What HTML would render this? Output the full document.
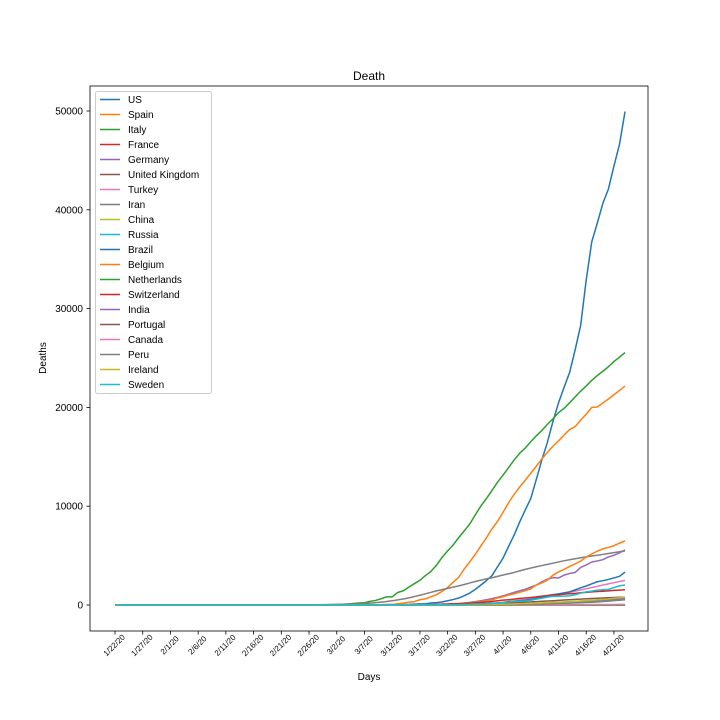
<!DOCTYPE html>
<html><head><meta charset="utf-8"><style>body{margin:0;background:#fff}svg{display:block;font-family:"Liberation Sans","DejaVu Sans",sans-serif}</style></head>
<body>
<svg id="chart" width="720" height="720" viewBox="0 0 720 720" xmlns="http://www.w3.org/2000/svg">
<rect width="720" height="720" fill="#fff"/>
<text x="369" y="80" font-size="12" text-anchor="middle">Death</text>
<text x="369" y="680" font-size="10" text-anchor="middle">Days</text>
<text x="46" y="358" font-size="10" text-anchor="middle" transform="rotate(-90 46 358)">Deaths</text>
<g id="grid"></g><g id="lines"></g>
<rect x="90" y="86" width="558" height="545" fill="none" stroke="#000" stroke-width="0.8"/>
<g id="legend"></g>
</svg>
<script>
const N = 93;
const yTicks = [0,10000,20000,30000,40000,50000];
const countries = ["US","Spain","Italy","France","Germany","United Kingdom","Turkey","Iran","China","Russia","Brazil","Belgium","Netherlands","Switzerland","India","Portugal","Canada","Peru","Ireland","Sweden"];
function pad(start, vals){const a=[];for(let i=0;i<N;i++){a.push(i<start?0:(i-start<vals.length?vals[i-start]:vals[vals.length-1]));}return a;}
const us = pad(38,[1,1,6,7,11,12,14,17,21,22,28,36,40,47,54,63,85,108,118,200,244,307,427,552,706,942,1209,1581,2026,2467,2978,3873,4757,5926,7087,8407,9619,10783,12722,14695,16478,18586,20463,22020,23529,25832,28325,32916,36773,38664,40661,42094,44444,46622,49954]);
const spain = pad(41,[1,2,3,5,10,17,28,35,54,55,133,195,289,342,533,623,830,1043,1375,1772,2311,2808,3647,4365,5138,5982,6803,7716,8464,9387,10348,11198,11947,12641,13341,14045,14792,15447,16081,16606,17209,17756,18056,18708,19315,20002,20043,20453,20852,21282,21717,22157]);
const italy = pad(30,[1,2,3,7,10,12,17,21,29,34,52,79,107,148,197,233,366,463,631,827,827,1266,1441,1809,2158,2503,2978,3405,4032,4825,5476,6077,6820,7503,8215,9134,10023,10779,11591,12428,13155,13915,14681,15362,15887,16523,17127,17669,18279,18849,19468,19899,20465,21067,21645,22170,22745,23227,23660,24114,24648,25085,25549]);
const france = pad(60,[1,1,1,1,2,2,2,2,3,3,3,4,4,5,5,5,6,6,7,7,8,8,9,9,10,10,11,11,12,12,13,13,14]);
const germany = pad(47,[2,2,3,3,7,9,11,17,24,28,44,67,84,94,123,157,206,267,342,433,533,645,775,920,1107,1275,1444,1584,1810,2016,2349,2607,2767,2736,3022,3194,3294,3804,4052,4352,4459,4586,4862,5033,5279,5575]);
const uk = pad(70,[0,0,1,1,1,1,1,1,1,1,1,2,2,2,2,2,2,2,3,3,3,3,3]);
const turkey = pad(55,[1,2,3,4,9,30,37,44,59,75,92,108,131,168,214,277,356,425,501,574,649,725,812,908,1006,1101,1198,1296,1403,1518,1643,1769,1890,2017,2140,2259,2376,2491]);
const iran = pad(28,[2,2,4,5,8,12,16,19,26,34,43,54,66,77,92,107,124,145,194,237,291,354,429,514,611,724,853,988,1135,1284,1433,1556,1685,1812,1934,2077,2234,2378,2517,2640,2757,2898,3036,3160,3294,3452,3603,3739,3872,3993,4110,4232,4357,4474,4585,4683,4777,4869,4958,5031,5118,5209,5297,5391,5481]);
const china = pad(12,[1,1,1,1,2,3,4,4,5,6,6,6]);
const russia = pad(60,[1,1,1,2,3,4,8,9,17,24,30,34,43,47,58,63,76,94,106,130,148,170,198,232,273,313,361,405,456,513,555]);
const brazil = pad(55,[1,3,6,11,15,25,34,46,59,77,92,111,136,159,201,240,324,359,445,486,564,686,819,950,1057,1124,1223,1328,1532,1736,1924,2141,2354,2462,2587,2741,2906,3331]);
const belgium = pad(49,[3,3,3,4,4,5,10,14,21,37,67,75,88,122,178,220,289,353,431,513,705,828,1011,1143,1283,1447,1632,2035,2240,2523,3019,3346,3600,3903,4157,4440,4857,5163,5453,5683,5828,5998,6262,6490]);
const netherlands = pad(75,[1,1,1,1,1,1,1,1,2,2,2,2,2,2,2,2,2,2]);
const switzerland = pad(43,[1,1,1,2,2,3,4,4,11,13,14,14,27,28,41,54,75,98,120,122,153,191,231,264,300,359,433,488,536,591,666,715,765,821,895,948,1002,1036,1106,1138,1174,1239,1281,1327,1368,1393,1429,1478,1509,1549]);
const india = pad(51,[1,2,2,2,2,3,3,4,4,4,7,10,10,12,20,20,24,27,32,35,58,72,72,86,99,136,150,178,226,246,288,331,358,393,405,448,486,521,559,592,645,681]);
const portugal = pad(55,[1,2,3,6,12,14,23,33,43,60,76,100,119,140,160,187,209,246,266,295,311,345,380,409,435,470,504,535,567,599,629,657,687,714,735,762,785]);
const canada = pad(60,[1,1,1,1,1,1,1,2,2,2,3,4,4,5,7,9,11,13,18,20,23,27,32,36,40,44,46,48,50,53,55,58,60]);
const peru = pad(59,[1,2,3,5,5,7,9,11,16,18,24,30,38,55,61,73,83,92,107,121,138,169,181,193,216,230,254,274,300,348,387,445,484,530]);
const ireland = pad(53,[1,1,1,2,2,2,3,3,3,4,7,9,19,22,36,46,54,71,85,98,120,137,158,174,210,235,263,287,320,334,365,406,444,486,530,571,610,687,730,769]);
const sweden = pad(49,[1,1,1,2,3,6,7,10,11,16,20,21,25,36,62,77,105,105,110,146,180,239,308,358,373,401,477,591,687,793,870,887,899,919,1033,1203,1333,1400,1511,1540,1580,1765,1937,2021]);
const seriesData = [us,spain,italy,france,germany,uk,turkey,iran,china,russia,brazil,belgium,netherlands,switzerland,india,portugal,canada,peru,ireland,sweden];
const palette = ["#1f77b4","#ff7f0e","#2ca02c","#d62728","#9467bd","#8c564b","#e377c2","#7f7f7f","#bcbd22","#17becf"];
const months=[["1",22,31],["2",1,29],["3",1,31],["4",1,23]];
const dates=[];months.forEach(m=>{for(let d=m[1];d<=m[2];d++)dates.push(m[0]+"/"+d+"/20");});
const xS = i => 115 + i*5.544;
const yS = v => 605 - v*494/50000;
const NS="http://www.w3.org/2000/svg";
function mk(tag,attrs,parent){const e=document.createElementNS(NS,tag);for(const k in attrs)e.setAttribute(k,attrs[k]);parent.appendChild(e);return e;}
const grid=document.getElementById('grid');
yTicks.forEach(t=>{const y=yS(t);
 const tk=mk('line',{x1:86.5,x2:90,y1:y,y2:y,stroke:'#000','stroke-width':0.8},grid);
 
 const tx=mk('text',{x:83,y:y+3.5,'font-size':10,'text-anchor':'end'},grid);tx.textContent=t;
 });
for(let i=0;i<N;i+=5){const x=xS(i);
 const tk=mk('line',{x1:x,x2:x,y1:631,y2:634.5,stroke:'#000','stroke-width':0.8},grid);
 
 const tx=mk('text',{x:x-1,y:648,'font-size':8,'text-anchor':'middle',transform:`rotate(-45 ${x-1} 645)`},grid);tx.textContent=dates[i];
 }
const lines=document.getElementById('lines');
seriesData.forEach((s,k)=>{const pts=s.map((v,i)=>xS(i).toFixed(2)+","+yS(v).toFixed(2)).join(" ");
 const p=mk('polyline',{points:pts,fill:'none',stroke:palette[k%10],'stroke-width':1.5,'stroke-linejoin':'round'},lines);
 
 });
const lg=document.getElementById('legend');
const box=mk('rect',{x:95.5,y:91.5,width:116,height:302,fill:'#fff',stroke:'#ccc','stroke-width':1,rx:2},lg);

countries.forEach((c,k)=>{const y=99.5+k*15;
 const l=mk('line',{x1:100,x2:120,y1:y,y2:y,stroke:palette[k%10],'stroke-width':1.5},lg);
 
 const t=mk('text',{x:128,y:y+3.5,'font-size':10},lg);t.textContent=c;
 });
</script>
</body></html>
